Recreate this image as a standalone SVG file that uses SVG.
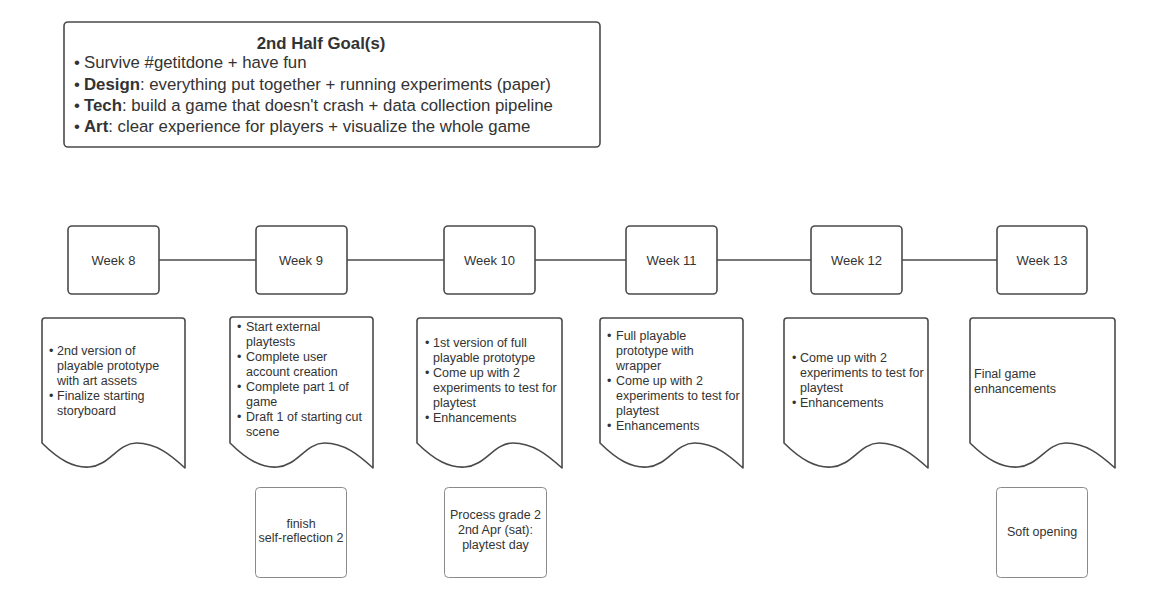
<svg xmlns="http://www.w3.org/2000/svg" width="1152" height="600" viewBox="0 0 1152 600">
<style>
.box{fill:#fff;stroke:#4a4a4a;stroke-width:1.6}
.doc{fill:#fff;stroke:#4a4a4a;stroke-width:1.6;stroke-linejoin:round}
.sub{fill:#fff;stroke:#8a8a8a;stroke-width:1}
.ln{stroke:#4a4a4a;stroke-width:1.6;fill:none}
text{font-family:"Liberation Sans",Arial,sans-serif;fill:#333}
.wk{font-size:13px;text-anchor:middle}
.t{font-size:12.5px}
.c{font-size:12.5px;text-anchor:middle}
.g{font-size:16.8px}
.gt{font-size:16.8px;font-weight:bold;text-anchor:middle}
</style>
<rect width="1152" height="600" fill="#fff"/>
<g id="goals">
<rect class="box" x="64" y="22" width="536" height="125" rx="4"/>
<text class="gt" x="321" y="49">2nd Half Goal(s)</text>
<text class="g" x="74" y="68">•<tspan x="84">Survive #getitdone + have fun</tspan></text>
<text class="g" x="74" y="90">•<tspan x="84" font-weight="bold">Design</tspan>: everything put together + running experiments (paper)</text>
<text class="g" x="74" y="111">•<tspan x="84" font-weight="bold">Tech</tspan>: build a game that doesn't crash + data collection pipeline</text>
<text class="g" x="74" y="132">•<tspan x="84" font-weight="bold">Art</tspan>: clear experience for players + visualize the whole game</text>
</g>
<g id="connectors">
<line class="ln" x1="159" y1="260" x2="256" y2="260"/>
<line class="ln" x1="347" y1="260" x2="444" y2="260"/>
<line class="ln" x1="535" y1="260" x2="626" y2="260"/>
<line class="ln" x1="717" y1="260" x2="811" y2="260"/>
<line class="ln" x1="902" y1="260" x2="997" y2="260"/>
</g>
<g id="week8">
<rect class="box" x="68" y="226" width="91" height="68" rx="4"/>
<text class="wk" x="113.5" y="264.5">Week 8</text>
</g>
<g id="week9">
<rect class="box" x="256" y="226" width="91" height="68" rx="4"/>
<text class="wk" x="301" y="264.5">Week 9</text>
</g>
<g id="week10">
<rect class="box" x="444" y="226" width="91" height="68" rx="4"/>
<text class="wk" x="489.5" y="264.5">Week 10</text>
</g>
<g id="week11">
<rect class="box" x="626" y="226" width="91" height="68" rx="4"/>
<text class="wk" x="671.5" y="264.5">Week 11</text>
</g>
<g id="week12">
<rect class="box" x="811" y="226" width="91" height="68" rx="4"/>
<text class="wk" x="856.5" y="264.5">Week 12</text>
</g>
<g id="week13">
<rect class="box" x="997" y="226" width="90" height="68" rx="4"/>
<text class="wk" x="1042" y="264.5">Week 13</text>
</g>
<g id="doc8">
<path class="doc" d="M42,443 L42,321 Q42,318 45,318 L182,318 Q185,318 185,321 L185,468 C170.7,455 156.4,443 136.4,443 C117.8,443 109.2,466 89.2,467 C73.5,468 59.2,460 42,443 Z"/>
<text class="t" x="49" y="354.5">•<tspan x="57">2nd version of</tspan></text>
<text class="t" x="57" y="369.5">playable prototype</text>
<text class="t" x="57" y="384.5">with art assets</text>
<text class="t" x="49" y="399.5">•<tspan x="57">Finalize starting</tspan></text>
<text class="t" x="57" y="414.5">storyboard</text>
</g>
<g id="doc9">
<path class="doc" d="M230,443 L230,320 Q230,317 233,317 L370,317 Q373,317 373,320 L373,468 C358.7,455 344.4,443 324.4,443 C305.8,443 297.2,466 277.2,467 C261.5,468 247.2,460 230,443 Z"/>
<text class="t" x="237" y="331">•<tspan x="246">Start external</tspan></text>
<text class="t" x="246" y="346">playtests</text>
<text class="t" x="237" y="361">•<tspan x="246">Complete user</tspan></text>
<text class="t" x="246" y="376">account creation</text>
<text class="t" x="237" y="391">•<tspan x="246">Complete part 1 of</tspan></text>
<text class="t" x="246" y="406">game</text>
<text class="t" x="237" y="421">•<tspan x="246">Draft 1 of starting cut</tspan></text>
<text class="t" x="246" y="436">scene</text>
</g>
<g id="doc10">
<path class="doc" d="M417,443 L417,321 Q417,318 420,318 L559,318 Q562,318 562,321 L562,468 C547.5,455 533,443 512.7,443 C493.9,443 485.2,466 464.9,467 C448.9,468 434.4,460 417,443 Z"/>
<text class="t" x="425" y="347">•<tspan x="433">1st version of full</tspan></text>
<text class="t" x="433" y="362">playable prototype</text>
<text class="t" x="425" y="377">•<tspan x="433">Come up with 2</tspan></text>
<text class="t" x="433" y="392">experiments to test for</text>
<text class="t" x="433" y="407">playtest</text>
<text class="t" x="425" y="422">•<tspan x="433">Enhancements</tspan></text>
</g>
<g id="doc11">
<path class="doc" d="M600,443 L600,321 Q600,318 603,318 L740,318 Q743,318 743,321 L743,468 C728.7,455 714.4,443 694.4,443 C675.8,443 667.2,466 647.2,467 C631.5,468 617.2,460 600,443 Z"/>
<text class="t" x="607" y="339.5">•<tspan x="616">Full playable</tspan></text>
<text class="t" x="616" y="354.5">prototype with</text>
<text class="t" x="616" y="369.5">wrapper</text>
<text class="t" x="607" y="384.5">•<tspan x="616">Come up with 2</tspan></text>
<text class="t" x="616" y="399.5">experiments to test for</text>
<text class="t" x="616" y="414.5">playtest</text>
<text class="t" x="607" y="429.5">•<tspan x="616">Enhancements</tspan></text>
</g>
<g id="doc12">
<path class="doc" d="M784,443 L784,321 Q784,318 787,318 L925,318 Q928,318 928,321 L928,468 C913.6,455 899.2,443 879,443 C860.3,443 851.7,466 831.5,467 C815.7,468 801.3,460 784,443 Z"/>
<text class="t" x="792" y="362">•<tspan x="800">Come up with 2</tspan></text>
<text class="t" x="800" y="377">experiments to test for</text>
<text class="t" x="800" y="392">playtest</text>
<text class="t" x="792" y="407">•<tspan x="800">Enhancements</tspan></text>
</g>
<g id="doc13">
<path class="doc" d="M970,443 L970,321 Q970,318 973,318 L1112,318 Q1115,318 1115,321 L1115,468 C1100.5,455 1086,443 1065.7,443 C1046.9,443 1038.2,466 1017.9,467 C1001.9,468 987.4,460 970,443 Z"/>
<text class="t" x="974" y="377.5">Final game</text>
<text class="t" x="974" y="392.5">enhancements</text>
</g>
<g id="note9">
<rect class="sub" x="255.5" y="487.5" width="91" height="90" rx="4"/>
<text class="c" x="301" y="527.5">finish</text>
<text class="c" x="301" y="541.5">self-reflection 2</text>
</g>
<g id="note10">
<rect class="sub" x="444.5" y="487.5" width="102" height="90" rx="4"/>
<text class="c" x="495.5" y="518.5">Process grade 2</text>
<text class="c" x="495.5" y="533.5">2nd Apr (sat):</text>
<text class="c" x="495.5" y="548.5">playtest day</text>
</g>
<g id="note13">
<rect class="sub" x="996.5" y="487.5" width="91" height="90" rx="4"/>
<text class="c" x="1042" y="535.5">Soft opening</text>
</g>
</svg>
